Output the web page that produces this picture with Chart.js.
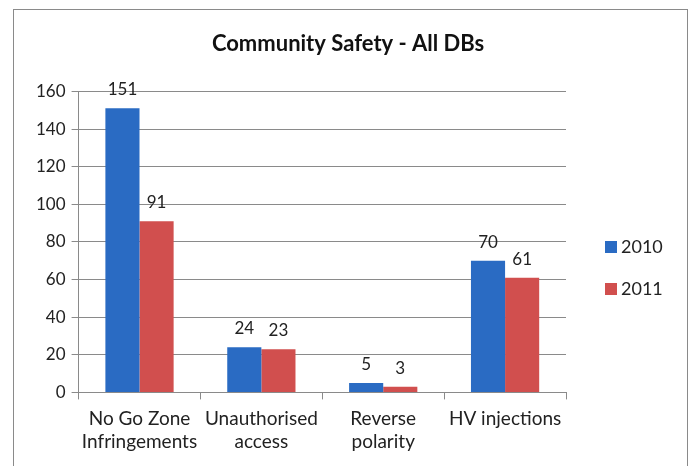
<!DOCTYPE html>
<html>
<head>
<meta charset="utf-8">
<script src="https://cdn.jsdelivr.net/npm/chart.js@4.4.0/dist/chart.umd.min.js"></script>
<style>
  body { margin: 0; background: #fff; }
  #wrap { position: relative; width: 696px; height: 466px; }
  #frame { position: absolute; left: 13px; top: 9px; width: 675px; height: 470px; border: 1px solid #8a8a8a; box-sizing: border-box; }
  canvas { position: absolute; left: 0; top: 0; }
</style>
</head>
<body>
<div id="wrap">
  <div id="frame"></div>
  <canvas id="chart" width="696" height="466"></canvas>
</div>
<script>
// Data
const categories = [["No Go Zone", "Infringements"], ["Unauthorised", "access"], ["Reverse", "polarity"], "HV injections"];
const values2010 = [151, 24, 5, 70];
const values2011 = [91, 23, 3, 61];
const seriesNames = ["2010", "2011"];
const yTicks = [0, 20, 40, 60, 80, 100, 120, 140, 160];

const FONT = "Lato, 'Open Sans', sans-serif";
const colors = ["#2a6bc3", "#d14f4e"];

// Value labels above bars
const valueLabels = {
  id: "valueLabels",
  afterDatasetsDraw(chart) {
    const ctx = chart.ctx;
    ctx.save();
    ctx.font = "17px " + FONT;
    ctx.fillStyle = "#222";
    ctx.textAlign = "center";
    ctx.textBaseline = "bottom";
    chart.data.datasets.forEach((ds, i) => {
      chart.getDatasetMeta(i).data.forEach((bar, j) => {
        ctx.fillText(ds.data[j], bar.x, bar.y - 10);
      });
    });
    ctx.restore();
  }
};

// Legend on the right (drawn by hand so it can sit where the original has it)
const sideLegend = {
  id: "sideLegend",
  afterDraw(chart) {
    const ctx = chart.ctx;
    ctx.save();
    ctx.font = "18px " + FONT;
    ctx.textBaseline = "middle";
    ctx.textAlign = "left";
    chart.data.datasets.forEach((ds, i) => {
      const y = 247 + i * 42;
      ctx.fillStyle = ds.backgroundColor;
      ctx.fillRect(605, y - 6, 12, 12);
      ctx.fillStyle = "#222";
      ctx.fillText(ds.label, 621, y);
    });
    ctx.restore();
  }
};

new Chart(document.getElementById("chart").getContext("2d"), {
  type: "bar",
  data: {
    labels: categories,
    datasets: [
      { label: seriesNames[0], data: values2010, backgroundColor: colors[0] },
      { label: seriesNames[1], data: values2011, backgroundColor: colors[1] }
    ]
  },
  options: {
    responsive: false,
    animation: false,
    layout: { padding: { left: 30, right: 30, top: 31, bottom: 5 } },
    datasets: { bar: { categoryPercentage: 0.56, barPercentage: 1 } },
    plugins: {
      legend: { display: false },
      tooltip: { enabled: false },
      title: {
        display: true,
        text: "Community Safety - All DBs",
        color: "#111",
        font: { family: FONT, size: 22, weight: "bold" },
        padding: { top: 0, bottom: 34 }
      }
    },
    scales: {
      x: {
        grid: { display: true, drawOnChartArea: false, drawTicks: true, tickLength: 7, color: "#8a8a8a", offset: true },
        border: { color: "#8a8a8a" },
        ticks: { color: "#222", font: { family: FONT, size: 19 }, padding: 8, maxRotation: 0 }
      },
      y: {
        min: 0,
        max: 160,
        afterBuildTicks(axis) { axis.ticks = yTicks.map(v => ({ value: v })); },
        grid: { color: "#8a8a8a", tickLength: 7 },
        border: { color: "#8a8a8a" },
        ticks: { color: "#222", font: { family: FONT, size: 17 }, padding: 6 }
      },
      // empty right-hand axis that keeps room for the legend
      legendSpace: {
        position: "right",
        grid: { display: false },
        border: { display: false },
        ticks: { display: false },
        afterFit(axis) { axis.width = 100; }
      }
    }
  },
  plugins: [valueLabels, sideLegend]
});
</script>
</body>
</html>
